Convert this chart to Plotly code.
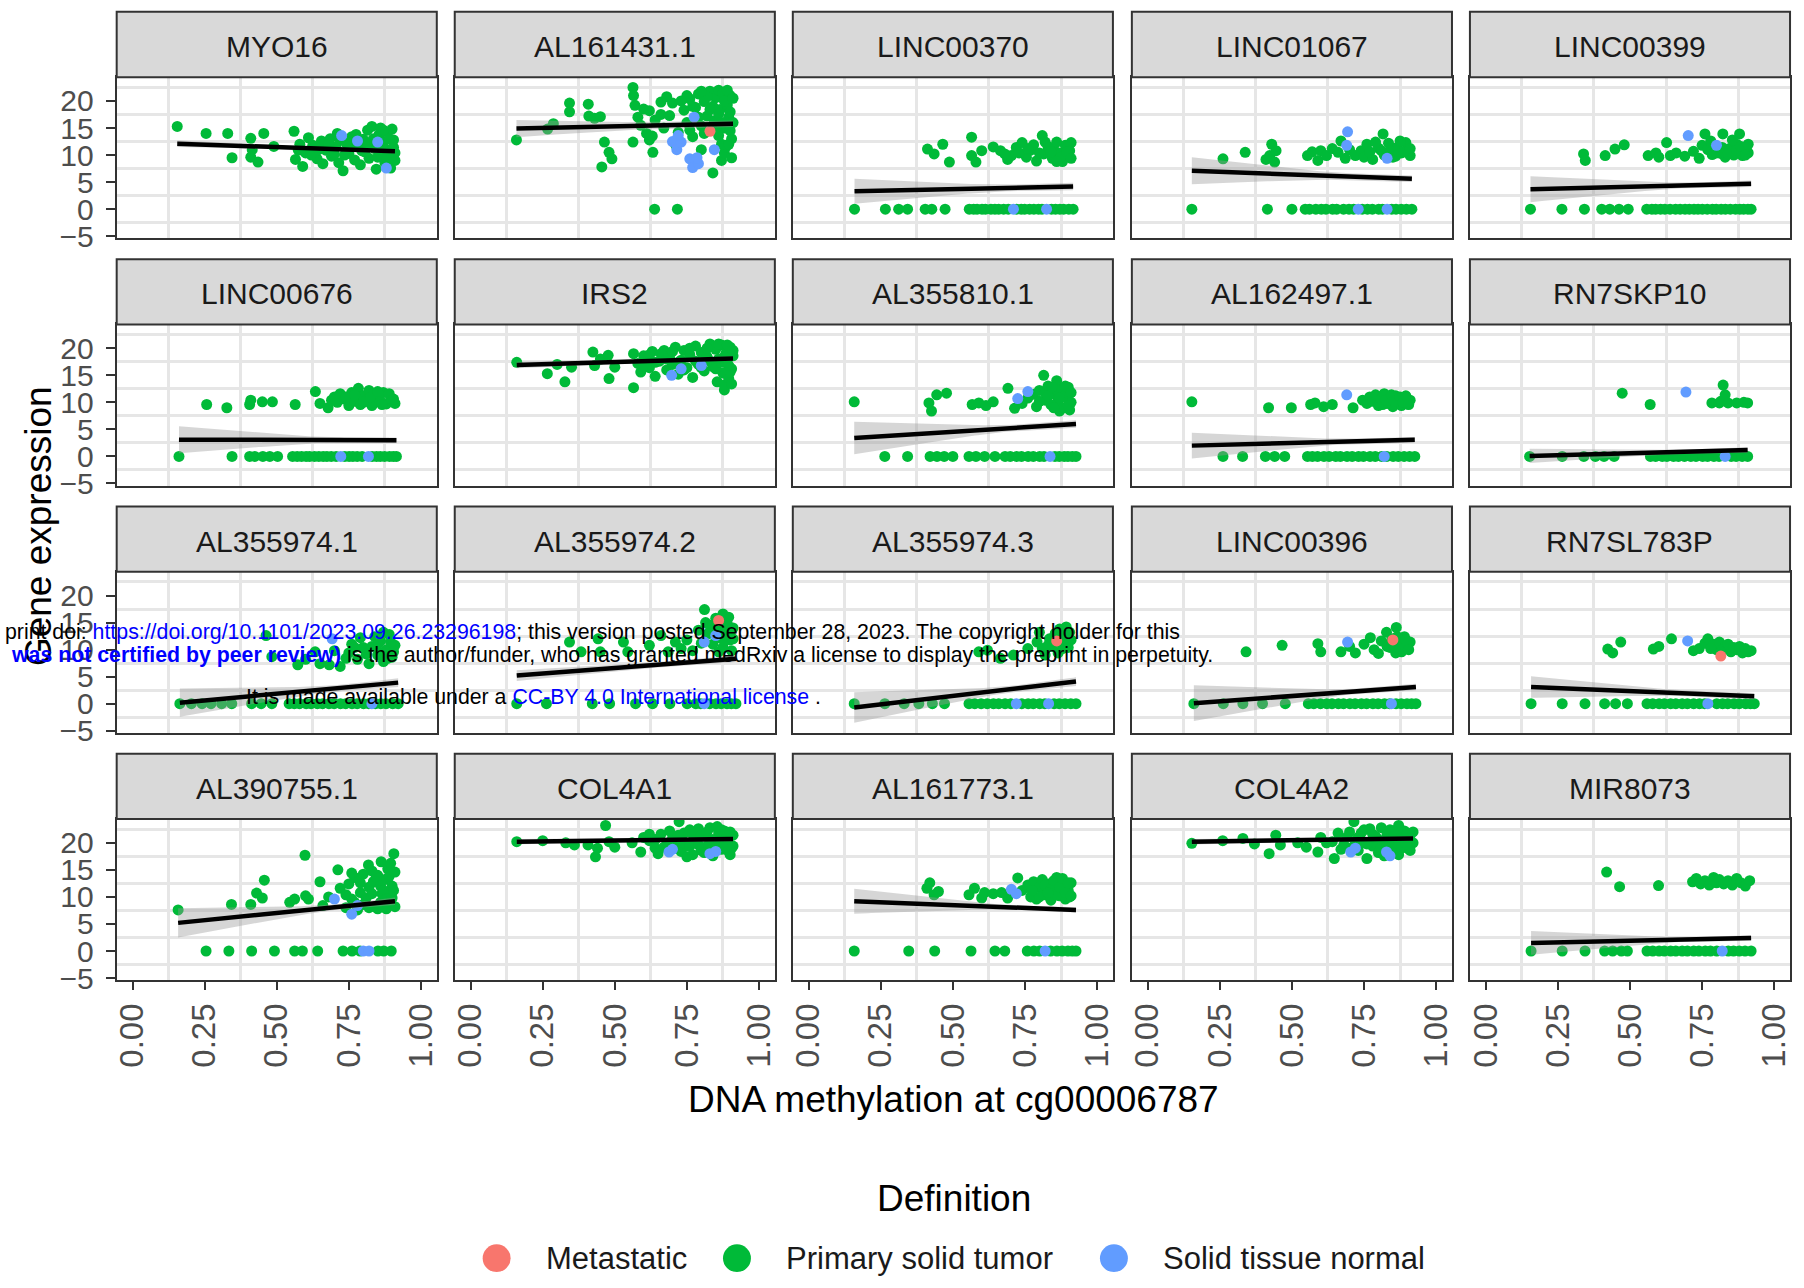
import numpy as np
import plotly.graph_objects as go

# ---------------------------------------------------------------------------
# Expression vs. methylation at cg00006787, one panel per gene.
# Each sample is (methylation beta value, expression).
# ---------------------------------------------------------------------------

GENES = ["MYO16", "AL161431.1", "LINC00370", "LINC01067", "LINC00399",
         "LINC00676", "IRS2", "AL355810.1", "AL162497.1", "RN7SKP10",
         "AL355974.1", "AL355974.2", "AL355974.3", "LINC00396", "RN7SL783P",
         "AL390755.1", "COL4A1", "AL161773.1", "COL4A2", "MIR8073"]

MYO16_tumor = [(0.155, 15.3), (0.255, 14.0), (0.33, 14.0), (0.345, 9.5), (0.41, 13.1), (0.415, 11.0),
               (0.41, 9.6), (0.435, 8.7), (0.455, 14.0), (0.49, 11.6), (0.56, 14.4), (0.565, 9.2),
               (0.575, 10.9), (0.58, 12.0), (0.59, 7.9), (0.6, 10.4), (0.61, 13.2), (0.625, 11.8),
               (0.64, 9.3), (0.655, 12.6), (0.66, 8.4), (0.67, 10.9), (0.685, 13.0), (0.69, 9.8),
               (0.705, 11.5), (0.71, 14.0), (0.715, 8.6), (0.73, 7.1), (0.74, 12.2), (0.75, 10.3),
               (0.76, 13.4), (0.77, 9.1), (0.78, 11.7), (0.79, 8.2), (0.8, 12.9), (0.805, 10.6),
               (0.815, 14.6), (0.82, 9.4), (0.83, 15.3), (0.84, 11.2), (0.845, 7.4), (0.855, 13.8),
               (0.86, 15.0), (0.86, 10.0), (0.87, 12.4), (0.875, 8.6), (0.885, 14.2), (0.89, 11.0),
               (0.895, 7.6), (0.9, 9.2), (0.905, 12.8), (0.91, 10.4), (0.62, 10.0), (0.645, 11.0),
               (0.68, 12.0), (0.7, 10.2), (0.72, 12.8), (0.735, 10.0), (0.765, 11.6), (0.775, 13.8),
               (0.795, 10.8), (0.81, 12.0), (0.825, 11.8), (0.835, 13.0), (0.85, 9.6), (0.865, 11.4),
               (0.88, 10.0), (0.89, 13.0), (0.9, 14.8), (0.905, 11.4), (0.91, 9.0), (0.87, 14.6)]
MYO16_normal = [(0.725, 13.6), (0.85, 12.4), (0.88, 7.6), (0.78, 12.6)]
MYO16_metastatic = []

AL161431_1_tumor = [(0.159, 12.8), (0.267, 14.8), (0.287, 15.8), (0.343, 19.6), (0.343, 18.0), (0.408, 19.4),
                    (0.41, 17.2), (0.43, 16.8), (0.45, 17.1), (0.464, 12.4), (0.48, 10.5), (0.49, 9.3),
                    (0.455, 7.8), (0.563, 22.5), (0.565, 21.0), (0.57, 19.2), (0.563, 12.4), (0.58, 17.0),
                    (0.59, 15.5), (0.6, 18.5), (0.61, 14.0), (0.62, 18.2), (0.62, 12.8), (0.632, 10.5),
                    (0.64, 16.5), (0.66, 19.8), (0.67, 15.0), (0.68, 20.8), (0.69, 17.3), (0.7, 19.6),
                    (0.71, 12.0), (0.72, 14.2), (0.74, 18.3), (0.75, 16.0), (0.76, 20.4), (0.77, 13.4),
                    (0.78, 18.8), (0.79, 21.3), (0.8, 15.4), (0.8, 11.0), (0.81, 19.9), (0.82, 17.2),
                    (0.83, 21.8), (0.84, 6.7), (0.845, 16.3), (0.85, 20.6), (0.86, 13.6), (0.86, 22.0),
                    (0.865, 18.4), (0.87, 9.0), (0.875, 21.5), (0.88, 15.0), (0.88, 10.4), (0.885, 11.5),
                    (0.89, 19.3), (0.895, 17.0), (0.9, 21.0), (0.9, 18.0), (0.905, 13.0), (0.91, 16.0),
                    (0.75, 21.0), (0.77, 19.0), (0.79, 17.0), (0.81, 14.0), (0.82, 20.8), (0.84, 19.0),
                    (0.85, 15.0), (0.86, 17.6), (0.87, 12.0), (0.88, 20.0), (0.89, 22.0), (0.9, 14.5),
                    (0.91, 20.5), (0.905, 9.5), (0.895, 12.0), (0.87, 16.0), (0.83, 18.4), (0.8, 21.8),
                    (0.76, 14.6), (0.73, 20.0), (0.66, 17.5), (0.63, 13.5),
                    (0.638, 0.0), (0.717, 0.0)]
AL161431_1_normal = [(0.7, 12.5), (0.715, 11.0), (0.73, 12.4), (0.72, 13.6), (0.775, 17.0), (0.76, 9.3),
                     (0.77, 7.7), (0.79, 8.4), (0.785, 9.5), (0.845, 11.0)]
AL161431_1_metastatic = [(0.83, 14.4)]

LINC00370_tumor = [(0.412, 11.1), (0.435, 10.2), (0.465, 12.0), (0.488, 8.7), (0.565, 13.3), (0.565, 9.9),
                   (0.58, 8.7), (0.6, 10.8), (0.64, 11.5), (0.665, 10.8), (0.69, 9.2), (0.703, 9.9),
                   (0.72, 11.4), (0.74, 12.3), (0.755, 9.6), (0.77, 10.9), (0.78, 11.9), (0.79, 8.9),
                   (0.81, 13.6), (0.815, 10.2), (0.83, 11.6), (0.845, 9.4), (0.85, 11.0), (0.86, 12.4),
                   (0.87, 10.4), (0.88, 8.8), (0.89, 11.8), (0.9, 9.9), (0.905, 10.8), (0.91, 12.3),
                   (0.73, 10.4), (0.76, 11.2), (0.8, 10.4), (0.82, 12.4), (0.84, 10.6), (0.875, 9.6),
                   (0.895, 10.6), (0.91, 9.4), (0.68, 10.2), (0.86, 8.8),
                   (0.159, 0.0), (0.266, 0.0), (0.312, 0.0), (0.343, 0.0), (0.404, 0.0), (0.427, 0.0),
                   (0.473, 0.0), (0.557, 0.0), (0.572, 0.0), (0.584, 0.0), (0.601, 0.0), (0.613, 0.0),
                   (0.632, 0.0), (0.646, 0.0), (0.659, 0.0), (0.676, 0.0), (0.692, 0.0), (0.721, 0.0),
                   (0.737, 0.0), (0.749, 0.0), (0.766, 0.0), (0.781, 0.0), (0.797, 0.0), (0.809, 0.0),
                   (0.842, 0.0), (0.856, 0.0), (0.871, 0.0), (0.884, 0.0), (0.902, 0.0), (0.917, 0.0)]
LINC00370_normal = [(0.71, 0.0), (0.825, 0.0)]
LINC00370_metastatic = []

LINC01067_tumor = [(0.261, 9.3), (0.338, 10.5), (0.41, 9.2), (0.423, 9.9), (0.43, 12.0), (0.44, 8.7),
                   (0.445, 10.8), (0.554, 9.9), (0.57, 10.6), (0.59, 9.0), (0.6, 10.8), (0.62, 9.9),
                   (0.64, 11.2), (0.66, 10.5), (0.67, 12.6), (0.685, 9.4), (0.7, 11.0), (0.72, 9.9),
                   (0.74, 10.8), (0.75, 9.6), (0.76, 12.0), (0.78, 9.2), (0.8, 11.3), (0.816, 13.9),
                   (0.82, 10.0), (0.835, 12.2), (0.85, 9.6), (0.865, 11.4), (0.88, 10.4), (0.895, 12.3),
                   (0.9, 11.0), (0.91, 9.9), (0.77, 10.6), (0.79, 12.4), (0.81, 10.8), (0.84, 10.8),
                   (0.86, 9.8), (0.875, 12.6), (0.89, 10.6), (0.91, 11.2),
                   (0.153, 0.0), (0.415, 0.0), (0.5, 0.0), (0.546, 0.0), (0.561, 0.0), (0.583, 0.0),
                   (0.602, 0.0), (0.618, 0.0), (0.641, 0.0), (0.655, 0.0), (0.679, 0.0), (0.698, 0.0),
                   (0.714, 0.0), (0.744, 0.0), (0.762, 0.0), (0.779, 0.0), (0.801, 0.0), (0.814, 0.0),
                   (0.846, 0.0), (0.861, 0.0), (0.879, 0.0), (0.897, 0.0), (0.916, 0.0)]
LINC01067_normal = [(0.693, 14.3), (0.69, 11.8), (0.83, 9.4), (0.73, 0.0), (0.83, 0.0)]
LINC01067_metastatic = []

LINC00399_tumor = [(0.339, 10.2), (0.345, 9.0), (0.414, 9.9), (0.448, 11.1), (0.48, 11.9), (0.563, 9.9),
                   (0.59, 10.4), (0.6, 9.6), (0.627, 12.3), (0.64, 9.9), (0.66, 10.4), (0.69, 9.8),
                   (0.72, 10.7), (0.74, 9.4), (0.75, 11.8), (0.76, 13.9), (0.77, 11.0), (0.785, 10.1),
                   (0.8, 11.6), (0.815, 10.3), (0.822, 13.9), (0.83, 9.6), (0.845, 11.2), (0.86, 10.0),
                   (0.87, 12.0), (0.88, 13.9), (0.89, 9.9), (0.9, 11.2), (0.91, 10.4),
                   (0.78, 12.6), (0.8, 10.4), (0.82, 11.4), (0.84, 10.2), (0.855, 12.8), (0.87, 10.8),
                   (0.885, 11.6), (0.9, 10.0), (0.91, 12.0),
                   (0.155, 0.0), (0.264, 0.0), (0.342, 0.0), (0.402, 0.0), (0.43, 0.0), (0.462, 0.0),
                   (0.494, 0.0), (0.558, 0.0), (0.576, 0.0), (0.589, 0.0), (0.606, 0.0), (0.621, 0.0),
                   (0.639, 0.0), (0.658, 0.0), (0.674, 0.0), (0.691, 0.0), (0.706, 0.0), (0.722, 0.0),
                   (0.736, 0.0), (0.751, 0.0), (0.768, 0.0), (0.786, 0.0), (0.799, 0.0), (0.816, 0.0),
                   (0.831, 0.0), (0.848, 0.0), (0.866, 0.0), (0.881, 0.0), (0.894, 0.0), (0.909, 0.0),
                   (0.92, 0.0)]
LINC00399_normal = [(0.702, 13.6), (0.8, 11.8)]
LINC00399_metastatic = []

LINC00676_tumor = [(0.257, 9.6), (0.327, 9.0), (0.406, 9.6), (0.41, 10.4), (0.45, 10.1), (0.485, 10.1),
                   (0.564, 9.6), (0.634, 12.0), (0.65, 9.8), (0.678, 9.0), (0.69, 10.4), (0.7, 11.0),
                   (0.71, 10.0), (0.72, 11.6), (0.735, 10.6), (0.75, 9.4), (0.76, 11.8), (0.77, 10.2),
                   (0.783, 12.6), (0.79, 9.6), (0.8, 11.2), (0.81, 10.4), (0.82, 12.2), (0.83, 9.4),
                   (0.845, 11.0), (0.86, 10.2), (0.87, 11.8), (0.88, 9.7), (0.895, 10.6), (0.91, 9.8),
                   (0.74, 11.0), (0.77, 11.4), (0.8, 10.0), (0.825, 11.0), (0.85, 12.0), (0.865, 9.6),
                   (0.89, 11.6), (0.905, 10.6),
                   (0.161, 0.0), (0.345, 0.0), (0.406, 0.0), (0.424, 0.0), (0.452, 0.0), (0.476, 0.0),
                   (0.503, 0.0), (0.555, 0.0), (0.571, 0.0), (0.586, 0.0), (0.602, 0.0), (0.614, 0.0),
                   (0.631, 0.0), (0.646, 0.0), (0.661, 0.0), (0.674, 0.0), (0.689, 0.0), (0.706, 0.0),
                   (0.736, 0.0), (0.751, 0.0), (0.764, 0.0), (0.779, 0.0), (0.796, 0.0), (0.831, 0.0),
                   (0.846, 0.0), (0.859, 0.0), (0.874, 0.0), (0.891, 0.0), (0.904, 0.0), (0.915, 0.0)]
LINC00676_normal = [(0.722, 0.0), (0.818, 0.0)]
LINC00676_metastatic = []

IRS2_tumor = [(0.16, 17.4), (0.266, 15.3), (0.3, 17.0), (0.327, 13.8), (0.35, 16.5), (0.424, 19.3),
              (0.43, 16.8), (0.45, 18.0), (0.477, 18.7), (0.48, 14.4), (0.5, 16.5), (0.565, 19.0),
              (0.565, 12.7), (0.58, 17.2), (0.59, 15.6), (0.6, 18.6), (0.62, 16.4), (0.63, 19.4),
              (0.64, 14.8), (0.655, 17.6), (0.671, 19.6), (0.68, 16.0), (0.69, 18.2), (0.7, 17.0),
              (0.71, 20.2), (0.72, 15.2), (0.73, 17.8), (0.74, 19.6), (0.75, 16.4), (0.76, 18.8),
              (0.77, 14.6), (0.78, 20.4), (0.79, 17.0), (0.8, 19.2), (0.81, 15.8), (0.82, 18.4),
              (0.83, 20.8), (0.84, 16.6), (0.85, 19.8), (0.855, 13.8), (0.86, 18.0), (0.87, 20.6),
              (0.875, 15.4), (0.88, 12.3), (0.88, 13.2), (0.885, 19.0), (0.89, 17.2), (0.895, 14.4),
              (0.9, 20.2), (0.905, 16.2), (0.91, 18.6),
              (0.6, 16.8), (0.62, 18.8), (0.64, 17.4), (0.66, 19.0), (0.68, 18.0), (0.7, 19.4),
              (0.72, 17.4), (0.74, 16.0), (0.76, 20.0), (0.78, 17.6), (0.8, 16.4), (0.82, 20.0),
              (0.83, 17.6), (0.85, 16.2), (0.86, 20.8), (0.87, 17.4), (0.88, 18.4), (0.89, 20.6),
              (0.9, 15.6), (0.91, 19.6), (0.895, 16.8), (0.905, 13.4)]
IRS2_normal = [(0.697, 15.0), (0.73, 16.2), (0.8, 16.8)]
IRS2_metastatic = []

AL355810_1_tumor = [(0.158, 10.1), (0.417, 9.9), (0.426, 8.4), (0.444, 11.4), (0.478, 11.7), (0.567, 9.6),
                    (0.59, 9.9), (0.615, 9.4), (0.64, 10.1), (0.691, 12.6), (0.714, 8.9), (0.74, 9.8),
                    (0.76, 10.8), (0.78, 11.5), (0.79, 9.2), (0.8, 12.2), (0.815, 15.0), (0.82, 10.4),
                    (0.82, 11.8), (0.83, 13.0), (0.84, 9.6), (0.85, 11.6), (0.86, 14.0), (0.865, 10.2),
                    (0.87, 8.4), (0.875, 12.4), (0.885, 9.0), (0.893, 11.0), (0.9, 12.8), (0.905, 8.6),
                    (0.91, 10.0), (0.8, 10.2), (0.83, 11.2), (0.85, 9.0), (0.86, 12.4), (0.88, 11.0),
                    (0.89, 13.0), (0.9, 9.4), (0.91, 11.8), (0.87, 10.8), (0.845, 12.8),
                    (0.264, 0.0), (0.343, 0.0), (0.421, 0.0), (0.445, 0.0), (0.47, 0.0), (0.5, 0.0),
                    (0.556, 0.0), (0.58, 0.0), (0.61, 0.0), (0.646, 0.0), (0.681, 0.0), (0.699, 0.0),
                    (0.721, 0.0), (0.738, 0.0), (0.761, 0.0), (0.779, 0.0), (0.801, 0.0), (0.816, 0.0),
                    (0.854, 0.0), (0.869, 0.0), (0.886, 0.0), (0.899, 0.0), (0.914, 0.0), (0.927, 0.0)]
AL355810_1_normal = [(0.725, 10.7), (0.76, 12.0), (0.837, 0.0)]
AL355810_1_metastatic = []

AL162497_1_tumor = [(0.153, 10.1), (0.419, 9.0), (0.498, 9.0), (0.565, 9.6), (0.58, 9.9), (0.61, 9.2),
                    (0.64, 9.6), (0.712, 9.0), (0.745, 10.4), (0.76, 9.8), (0.77, 11.0), (0.78, 10.2),
                    (0.79, 11.4), (0.8, 9.4), (0.81, 10.6), (0.82, 11.6), (0.83, 9.8), (0.84, 10.8),
                    (0.85, 9.2), (0.86, 11.2), (0.87, 10.0), (0.88, 9.4), (0.89, 10.6), (0.9, 9.7),
                    (0.91, 10.4), (0.815, 9.6), (0.825, 10.4), (0.845, 11.4), (0.855, 10.2),
                    (0.875, 11.0), (0.885, 10.0), (0.895, 11.2), (0.905, 9.6),
                    (0.261, 0.0), (0.329, 0.0), (0.408, 0.0), (0.44, 0.0), (0.475, 0.0), (0.554, 0.0),
                    (0.571, 0.0), (0.589, 0.0), (0.611, 0.0), (0.629, 0.0), (0.652, 0.0), (0.668, 0.0),
                    (0.691, 0.0), (0.709, 0.0), (0.731, 0.0), (0.748, 0.0), (0.771, 0.0), (0.789, 0.0),
                    (0.811, 0.0), (0.829, 0.0), (0.851, 0.0), (0.869, 0.0), (0.889, 0.0), (0.908, 0.0),
                    (0.926, 0.0)]
AL162497_1_normal = [(0.69, 11.4), (0.82, 0.0)]
AL162497_1_metastatic = []

RN7SKP10_tumor = [(0.473, 11.7), (0.57, 9.6), (0.784, 9.9), (0.81, 9.9), (0.815, 10.2), (0.823, 13.2),
                  (0.83, 11.4), (0.84, 9.9), (0.87, 9.9), (0.895, 10.0), (0.908, 9.9),
                  (0.152, 0.0), (0.265, 0.0), (0.34, 0.0), (0.38, 0.0), (0.41, 0.0), (0.445, 0.0),
                  (0.571, 0.0), (0.589, 0.0), (0.612, 0.0), (0.628, 0.0), (0.651, 0.0), (0.668, 0.0),
                  (0.689, 0.0), (0.711, 0.0), (0.729, 0.0), (0.752, 0.0), (0.769, 0.0), (0.791, 0.0),
                  (0.809, 0.0), (0.851, 0.0), (0.868, 0.0), (0.889, 0.0), (0.908, 0.0)]
RN7SKP10_normal = [(0.694, 11.9), (0.83, 0.0)]
RN7SKP10_metastatic = []

AL355974_1_tumor = [(0.463, 12.6), (0.483, 8.7), (0.573, 7.2), (0.6, 8.2), (0.633, 9.6), (0.65, 7.4),
                    (0.682, 7.2), (0.7, 9.8), (0.72, 6.9), (0.74, 8.4), (0.76, 11.0), (0.78, 8.2),
                    (0.79, 12.2), (0.8, 10.4), (0.82, 7.4), (0.84, 12.4), (0.85, 9.0), (0.86, 11.6),
                    (0.87, 7.8), (0.87, 13.2), (0.88, 10.0), (0.89, 12.8), (0.9, 8.6), (0.91, 10.8),
                    (0.75, 9.4), (0.77, 10.4), (0.81, 9.2), (0.83, 10.6), (0.85, 11.0), (0.865, 9.4),
                    (0.885, 8.4), (0.895, 11.4), (0.905, 9.6),
                    (0.164, 0.0), (0.204, 0.0), (0.241, 0.0), (0.272, 0.0), (0.309, 0.0), (0.344, 0.0),
                    (0.413, 0.0), (0.446, 0.0), (0.483, 0.0), (0.543, 0.0), (0.561, 0.0), (0.579, 0.0),
                    (0.602, 0.0), (0.619, 0.0), (0.641, 0.0), (0.659, 0.0), (0.681, 0.0), (0.699, 0.0),
                    (0.721, 0.0), (0.739, 0.0), (0.761, 0.0), (0.779, 0.0), (0.801, 0.0), (0.819, 0.0),
                    (0.842, 0.0), (0.861, 0.0), (0.879, 0.0), (0.902, 0.0), (0.921, 0.0)]
AL355974_1_normal = [(0.692, 12.0), (0.83, 0.0)]
AL355974_1_metastatic = []

AL355974_2_tumor = [(0.343, 11.4), (0.383, 9.6), (0.442, 12.0), (0.45, 9.6), (0.53, 11.4), (0.545, 9.6),
                    (0.62, 10.8), (0.66, 12.6), (0.685, 9.6), (0.71, 11.4), (0.73, 10.2), (0.75, 11.8),
                    (0.77, 9.8), (0.79, 13.6), (0.8, 11.2), (0.811, 17.4), (0.815, 15.0), (0.83, 13.4),
                    (0.84, 11.0), (0.85, 15.8), (0.86, 12.2), (0.86, 9.6), (0.87, 14.4), (0.875, 10.4),
                    (0.885, 13.0), (0.895, 16.0), (0.9, 11.8), (0.905, 9.8), (0.91, 14.0),
                    (0.82, 12.8), (0.84, 14.6), (0.855, 13.0), (0.865, 15.6), (0.88, 11.6), (0.89, 14.8),
                    (0.9, 13.2), (0.91, 12.0), (0.875, 16.6),
                    (0.16, 0.0), (0.263, 0.0), (0.422, 0.0), (0.482, 0.0), (0.572, 0.0), (0.631, 0.0),
                    (0.691, 0.0), (0.751, 0.0), (0.781, 0.0), (0.798, 0.0), (0.829, 0.0), (0.851, 0.0),
                    (0.869, 0.0), (0.889, 0.0), (0.904, 0.0), (0.92, 0.0)]
AL355974_2_normal = [(0.81, 11.4), (0.85, 12.6), (0.81, 0.0)]
AL355974_2_metastatic = [(0.86, 15.4)]

AL355974_3_tumor = [(0.59, 9.6), (0.62, 9.9), (0.665, 8.4), (0.71, 9.0), (0.76, 10.2), (0.792, 11.4),
                    (0.8, 13.2), (0.81, 10.2), (0.82, 9.0), (0.835, 12.0), (0.845, 10.6), (0.855, 13.0),
                    (0.865, 9.4), (0.87, 13.8), (0.875, 11.4), (0.885, 12.6), (0.893, 14.2), (0.9, 10.4),
                    (0.91, 11.8), (0.83, 10.8), (0.85, 11.6), (0.86, 12.4), (0.88, 10.2), (0.89, 11.0),
                    (0.905, 13.2), (0.895, 12.0),
                    (0.158, 0.0), (0.264, 0.0), (0.331, 0.0), (0.382, 0.0), (0.429, 0.0), (0.471, 0.0),
                    (0.556, 0.0), (0.576, 0.0), (0.598, 0.0), (0.619, 0.0), (0.641, 0.0), (0.659, 0.0),
                    (0.681, 0.0), (0.701, 0.0), (0.739, 0.0), (0.761, 0.0), (0.779, 0.0), (0.801, 0.0),
                    (0.819, 0.0), (0.851, 0.0), (0.869, 0.0), (0.889, 0.0), (0.909, 0.0), (0.927, 0.0)]
AL355974_3_normal = [(0.72, 0.0), (0.832, 0.0)]
AL355974_3_metastatic = [(0.86, 11.6)]

LINC00396_tumor = [(0.341, 9.6), (0.466, 10.8), (0.59, 11.1), (0.6, 9.6), (0.67, 9.6), (0.7, 10.6),
                   (0.72, 9.4), (0.75, 11.0), (0.772, 12.2), (0.785, 10.0), (0.8, 9.3), (0.81, 11.6),
                   (0.828, 13.2), (0.84, 10.4), (0.85, 12.0), (0.86, 9.4), (0.862, 14.1), (0.87, 11.0),
                   (0.88, 9.6), (0.89, 12.4), (0.9, 10.6), (0.91, 11.4), (0.83, 10.6), (0.845, 11.6),
                   (0.855, 10.4), (0.865, 12.4), (0.875, 10.2), (0.885, 11.0), (0.895, 11.8), (0.905, 10.0),
                   (0.16, 0.0), (0.262, 0.0), (0.33, 0.0), (0.398, 0.0), (0.477, 0.0), (0.557, 0.0),
                   (0.576, 0.0), (0.599, 0.0), (0.621, 0.0), (0.639, 0.0), (0.661, 0.0), (0.679, 0.0),
                   (0.701, 0.0), (0.719, 0.0), (0.741, 0.0), (0.759, 0.0), (0.781, 0.0), (0.799, 0.0),
                   (0.821, 0.0), (0.839, 0.0), (0.861, 0.0), (0.879, 0.0), (0.899, 0.0), (0.915, 0.0),
                   (0.93, 0.0)]
LINC00396_normal = [(0.693, 11.4), (0.845, 0.0)]
LINC00396_metastatic = [(0.85, 11.8)]

RN7SL783P_tumor = [(0.423, 10.1), (0.44, 9.4), (0.468, 11.4), (0.581, 10.1), (0.6, 10.6), (0.644, 12.0),
                   (0.72, 9.8), (0.74, 10.2), (0.76, 11.2), (0.77, 12.0), (0.79, 11.0), (0.8, 10.0),
                   (0.81, 11.4), (0.83, 10.6), (0.85, 9.6), (0.87, 10.0), (0.89, 9.4), (0.92, 9.8),
                   (0.78, 10.2), (0.82, 10.0), (0.84, 11.0), (0.86, 10.4), (0.88, 10.6), (0.9, 10.2),
                   (0.91, 9.6),
                   (0.157, 0.0), (0.265, 0.0), (0.344, 0.0), (0.412, 0.0), (0.45, 0.0), (0.491, 0.0),
                   (0.559, 0.0), (0.579, 0.0), (0.601, 0.0), (0.619, 0.0), (0.641, 0.0), (0.659, 0.0),
                   (0.681, 0.0), (0.699, 0.0), (0.721, 0.0), (0.741, 0.0), (0.759, 0.0), (0.801, 0.0),
                   (0.821, 0.0), (0.839, 0.0), (0.861, 0.0), (0.879, 0.0), (0.901, 0.0), (0.918, 0.0),
                   (0.931, 0.0)]
RN7SL783P_normal = [(0.7, 11.6), (0.77, 0.0)]
RN7SL783P_metastatic = [(0.815, 8.8)]

AL390755_1_tumor = [(0.158, 7.6), (0.343, 8.6), (0.41, 8.6), (0.43, 10.7), (0.45, 9.8), (0.457, 13.1),
                    (0.545, 9.0), (0.562, 9.6), (0.598, 17.7), (0.6, 10.2), (0.61, 9.6), (0.65, 12.8),
                    (0.66, 8.4), (0.68, 10.0), (0.712, 15.0), (0.72, 11.6), (0.74, 8.0), (0.75, 12.4),
                    (0.76, 9.6), (0.77, 13.6), (0.78, 7.6), (0.79, 10.8), (0.8, 8.6), (0.818, 15.9),
                    (0.82, 11.8), (0.835, 12.8), (0.84, 8.2), (0.85, 14.0), (0.86, 9.0), (0.862, 16.5),
                    (0.865, 10.6), (0.875, 13.2), (0.88, 7.8), (0.885, 15.2), (0.89, 9.4), (0.895, 10.8),
                    (0.9, 12.0), (0.906, 18.0), (0.91, 8.2),
                    (0.74, 10.4), (0.76, 14.4), (0.77, 9.0), (0.79, 12.6), (0.8, 14.2), (0.81, 9.8),
                    (0.83, 10.6), (0.845, 13.6), (0.86, 12.0), (0.87, 11.2), (0.88, 9.6), (0.89, 13.8),
                    (0.9, 9.8), (0.91, 14.6), (0.905, 11.2), (0.85, 7.8), (0.82, 8.0), (0.895, 16.2),
                    (0.83, 14.8),
                    (0.255, 0.0), (0.334, 0.0), (0.413, 0.0), (0.492, 0.0), (0.562, 0.0), (0.589, 0.0),
                    (0.642, 0.0), (0.73, 0.0), (0.761, 0.0), (0.789, 0.0), (0.851, 0.0), (0.871, 0.0),
                    (0.897, 0.0)]
AL390755_1_normal = [(0.7, 9.6), (0.78, 8.4), (0.76, 6.8), (0.8, 0.0), (0.82, 0.0)]
AL390755_1_metastatic = []

COL4A1_tumor = [(0.16, 20.2), (0.25, 20.4), (0.33, 20.0), (0.36, 19.6), (0.407, 19.6), (0.433, 17.4),
                (0.44, 19.0), (0.468, 23.2), (0.48, 20.2), (0.5, 19.2), (0.56, 20.0), (0.59, 18.3),
                (0.6, 21.0), (0.62, 20.4), (0.64, 19.0), (0.65, 18.0), (0.66, 21.6), (0.68, 19.6),
                (0.7, 20.8), (0.723, 23.9), (0.73, 18.4), (0.74, 21.8), (0.75, 19.4), (0.75, 17.4),
                (0.76, 22.4), (0.77, 17.8), (0.78, 20.6), (0.79, 22.6), (0.8, 18.6), (0.81, 21.2),
                (0.82, 19.4), (0.83, 22.8), (0.84, 17.6), (0.85, 20.4), (0.855, 23.0), (0.86, 21.8),
                (0.87, 18.8), (0.88, 22.2), (0.89, 19.8), (0.9, 17.8), (0.905, 19.0), (0.91, 21.4),
                (0.62, 21.6), (0.64, 20.6), (0.67, 19.2), (0.69, 22.2), (0.71, 19.6), (0.72, 21.4),
                (0.74, 20.0), (0.76, 19.4), (0.77, 21.6), (0.79, 19.6), (0.8, 21.4), (0.82, 22.0),
                (0.84, 20.6), (0.85, 19.0), (0.86, 20.2), (0.87, 22.4), (0.88, 19.6), (0.89, 21.2),
                (0.9, 22.0), (0.91, 19.4), (0.895, 18.4), (0.81, 18.2)]
COL4A1_normal = [(0.688, 18.3), (0.7, 18.8), (0.83, 18.0), (0.85, 18.4)]
COL4A1_metastatic = []

AL161773_1_tumor = [(0.41, 11.6), (0.42, 12.6), (0.435, 10.4), (0.45, 11.0), (0.556, 10.4), (0.575, 11.6),
                    (0.6, 9.8), (0.61, 10.8), (0.64, 10.6), (0.669, 10.8), (0.69, 9.8), (0.725, 13.5),
                    (0.74, 11.2), (0.76, 12.2), (0.77, 10.0), (0.78, 12.8), (0.79, 9.6), (0.8, 11.8),
                    (0.81, 13.2), (0.82, 10.4), (0.83, 12.4), (0.84, 9.4), (0.85, 11.4), (0.86, 13.6),
                    (0.87, 10.2), (0.88, 12.0), (0.89, 9.6), (0.9, 11.2), (0.905, 10.0), (0.91, 12.6),
                    (0.8, 10.0), (0.82, 12.2), (0.84, 11.4), (0.85, 13.0), (0.86, 10.4), (0.87, 11.8),
                    (0.88, 13.4), (0.89, 10.8), (0.9, 12.6), (0.91, 10.2), (0.83, 10.8), (0.775, 11.2),
                    (0.158, 0.0), (0.347, 0.0), (0.437, 0.0), (0.563, 0.0), (0.646, 0.0), (0.68, 0.0),
                    (0.758, 0.0), (0.781, 0.0), (0.801, 0.0), (0.839, 0.0), (0.861, 0.0), (0.879, 0.0),
                    (0.899, 0.0), (0.914, 0.0), (0.927, 0.0)]
AL161773_1_normal = [(0.703, 11.4), (0.72, 10.6), (0.82, 0.0)]
AL161773_1_metastatic = []

COL4A2_tumor = [(0.153, 19.9), (0.26, 20.4), (0.33, 20.8), (0.37, 19.8), (0.421, 18.0), (0.444, 21.4),
                (0.46, 19.6), (0.52, 20.0), (0.55, 19.2), (0.59, 18.3), (0.6, 21.0), (0.62, 20.0),
                (0.647, 17.1), (0.66, 21.8), (0.68, 19.6), (0.7, 22.0), (0.715, 23.9), (0.72, 20.4),
                (0.73, 18.6), (0.74, 21.8), (0.75, 20.0), (0.76, 17.1), (0.77, 22.6), (0.78, 19.4),
                (0.79, 21.2), (0.8, 18.2), (0.81, 22.8), (0.82, 20.2), (0.83, 18.8), (0.84, 22.4),
                (0.85, 19.6), (0.86, 21.6), (0.87, 17.8), (0.87, 23.2), (0.88, 20.8), (0.89, 22.2),
                (0.9, 19.0), (0.91, 21.4), (0.92, 20.0),
                (0.64, 20.2), (0.67, 18.8), (0.69, 21.0), (0.71, 19.2), (0.73, 21.0), (0.75, 22.4),
                (0.76, 19.8), (0.78, 21.6), (0.8, 20.6), (0.81, 19.2), (0.83, 21.6), (0.85, 22.2),
                (0.86, 18.8), (0.87, 20.6), (0.88, 19.0), (0.89, 20.2), (0.9, 21.8), (0.91, 18.6),
                (0.92, 22.0), (0.895, 19.8), (0.82, 17.6)]
COL4A2_normal = [(0.704, 18.3), (0.72, 19.0), (0.828, 18.3), (0.84, 17.6)]
COL4A2_metastatic = []

MIR8073_tumor = [(0.419, 14.6), (0.464, 11.9), (0.599, 12.1), (0.717, 12.8), (0.73, 13.4), (0.745, 12.4),
                 (0.76, 13.0), (0.775, 12.2), (0.79, 13.6), (0.8, 12.6), (0.81, 13.2), (0.825, 12.4),
                 (0.84, 13.0), (0.855, 12.2), (0.87, 13.4), (0.885, 12.6), (0.9, 12.0), (0.915, 13.0),
                 (0.157, 0.0), (0.265, 0.0), (0.344, 0.0), (0.412, 0.0), (0.44, 0.0), (0.47, 0.0),
                 (0.491, 0.0), (0.559, 0.0), (0.579, 0.0), (0.601, 0.0), (0.619, 0.0), (0.641, 0.0),
                 (0.659, 0.0), (0.681, 0.0), (0.699, 0.0), (0.721, 0.0), (0.739, 0.0), (0.761, 0.0),
                 (0.779, 0.0), (0.801, 0.0), (0.841, 0.0), (0.859, 0.0), (0.879, 0.0), (0.899, 0.0),
                 (0.92, 0.0)]
MIR8073_normal = [(0.82, 0.0)]
MIR8073_metastatic = []

# Linear fit (geom_smooth, method = "lm") per gene: fitted value at the lowest and
# highest methylation, and half-width of the 95% band at the ends and where it is narrowest.
FIT_START = [12.1, 14.9, 3.3, 7.1, 3.7, 3.1, 16.9, 3.4, 2.0, 0.1,
             0.2, 5.2, -0.7, 0.1, 3.1, 5.2, 20.2, 9.2, 20.2, 1.5]
FIT_END = [10.7, 15.8, 4.2, 5.6, 4.7, 3.0, 18.1, 6.0, 3.1, 1.2,
           3.9, 8.3, 4.1, 3.1, 1.4, 9.2, 20.7, 7.6, 20.8, 2.4]
BAND_START = [0.6, 1.6, 2.3, 2.5, 2.4, 2.5, 0.6, 3.0, 2.4, 1.3,
              2.6, 1.0, 2.8, 3.3, 2.0, 2.7, 0.5, 2.3, 0.5, 2.2]
BAND_NARROW = [0.3, 0.6, 0.6, 0.6, 0.5, 0.5, 0.3, 0.6, 0.5, 0.4,
               0.6, 0.5, 0.6, 0.5, 0.5, 0.5, 0.3, 0.4, 0.3, 0.4]
BAND_END = [0.4, 0.6, 0.7, 0.6, 0.6, 0.5, 0.4, 0.7, 0.5, 0.5,
            0.8, 0.6, 0.8, 0.6, 0.6, 0.7, 0.4, 0.5, 0.4, 0.5]
BAND_NARROW_AT = 0.72

X_TICKS = [0.0, 0.25, 0.5, 0.75, 1.0]
X_TICK_TEXT = ["0.00", "0.25", "0.50", "0.75", "1.00"]
Y_TICKS = [-5, 0, 5, 10, 15, 20]

CATEGORIES = ["Metastatic", "Primary solid tumor", "Solid tissue normal"]
COLORS = {"Metastatic": "#F8766D", "Primary solid tumor": "#00BA38", "Solid tissue normal": "#619CFF"}

POINTS = {
    "MYO16": (MYO16_tumor, MYO16_normal, MYO16_metastatic),
    "AL161431.1": (AL161431_1_tumor, AL161431_1_normal, AL161431_1_metastatic),
    "LINC00370": (LINC00370_tumor, LINC00370_normal, LINC00370_metastatic),
    "LINC01067": (LINC01067_tumor, LINC01067_normal, LINC01067_metastatic),
    "LINC00399": (LINC00399_tumor, LINC00399_normal, LINC00399_metastatic),
    "LINC00676": (LINC00676_tumor, LINC00676_normal, LINC00676_metastatic),
    "IRS2": (IRS2_tumor, IRS2_normal, IRS2_metastatic),
    "AL355810.1": (AL355810_1_tumor, AL355810_1_normal, AL355810_1_metastatic),
    "AL162497.1": (AL162497_1_tumor, AL162497_1_normal, AL162497_1_metastatic),
    "RN7SKP10": (RN7SKP10_tumor, RN7SKP10_normal, RN7SKP10_metastatic),
    "AL355974.1": (AL355974_1_tumor, AL355974_1_normal, AL355974_1_metastatic),
    "AL355974.2": (AL355974_2_tumor, AL355974_2_normal, AL355974_2_metastatic),
    "AL355974.3": (AL355974_3_tumor, AL355974_3_normal, AL355974_3_metastatic),
    "LINC00396": (LINC00396_tumor, LINC00396_normal, LINC00396_metastatic),
    "RN7SL783P": (RN7SL783P_tumor, RN7SL783P_normal, RN7SL783P_metastatic),
    "AL390755.1": (AL390755_1_tumor, AL390755_1_normal, AL390755_1_metastatic),
    "COL4A1": (COL4A1_tumor, COL4A1_normal, COL4A1_metastatic),
    "AL161773.1": (AL161773_1_tumor, AL161773_1_normal, AL161773_1_metastatic),
    "COL4A2": (COL4A2_tumor, COL4A2_normal, COL4A2_metastatic),
    "MIR8073": (MIR8073_tumor, MIR8073_normal, MIR8073_metastatic),
}

# ---------------------------------------------------------------------------
# Page geometry (pixels)
# ---------------------------------------------------------------------------
W, H = 1804, 1288
COL_LEFT = [114, 453, 792, 1132, 1471]
PANEL_W = 321
STRIP_TOP = [12, 262, 512, 762]
STRIP_H = 66
PANEL_H = 163
NCOL = 5

FONT = "Liberation Sans, Arial, Helvetica, sans-serif"
BORDER = "#333333"
TICK_GREY = "#4D4D4D"
GRID = "#E6E6E6"


def px(xp):
    return xp / W


def py(yp):
    return 1 - yp / H


fig = go.Figure()
layout_axes = {}
shapes = []
annotations = []

for i, gene in enumerate(GENES):
    k = i + 1
    r, c = divmod(i, NCOL)
    left = COL_LEFT[c]
    top = STRIP_TOP[r] + STRIP_H
    xname = "x" if k == 1 else f"x{k}"
    yname = "y" if k == 1 else f"y{k}"
    xkey = "xaxis" if k == 1 else f"xaxis{k}"
    ykey = "yaxis" if k == 1 else f"yaxis{k}"
    bottom_row = r == 3
    first_col = c == 0

    layout_axes[xkey] = dict(
        domain=[px(left), px(left + PANEL_W)], anchor=yname,
        range=[-0.055, 1.055], tickmode="array", tickvals=X_TICKS, ticktext=X_TICK_TEXT,
        showgrid=False, zeroline=False, showline=True, mirror=True,
        linecolor=BORDER, linewidth=2,
        ticks="outside" if bottom_row else "", ticklen=8, tickwidth=2, tickcolor=BORDER,
        showticklabels=bottom_row, tickangle=-90,
        tickfont=dict(family=FONT, size=33, color=TICK_GREY),
        minor=dict(tickmode="array", tickvals=[0.125, 0.375, 0.625, 0.875],
                   showgrid=True, gridcolor=GRID, gridwidth=2.5, ticks=""),
    )
    layout_axes[ykey] = dict(
        domain=[py(top + PANEL_H), py(top)], anchor=xname,
        range=[-5.4, 24.4], tickmode="array", tickvals=Y_TICKS,
        showgrid=False, zeroline=False, showline=True, mirror=True,
        linecolor=BORDER, linewidth=2,
        ticks="outside" if first_col else "", ticklen=9, tickwidth=2, tickcolor=BORDER,
        showticklabels=first_col, ticklabelstandoff=6,
        tickfont=dict(family=FONT, size=30, color=TICK_GREY),
        minor=dict(tickmode="array", tickvals=[-2.5, 2.5, 7.5, 12.5, 17.5, 22.5],
                   showgrid=True, gridcolor=GRID, gridwidth=2.5, ticks=""),
    )

    tumor, normal, meta = POINTS[gene]
    for cat, pts in (("Primary solid tumor", tumor), ("Solid tissue normal", normal),
                     ("Metastatic", meta)):
        if not pts:
            continue
        fig.add_trace(go.Scatter(
            x=[p[0] for p in pts], y=[p[1] for p in pts], mode="markers",
            marker=dict(color=COLORS[cat], size=11, line=dict(width=0)),
            xaxis=xname, yaxis=yname, showlegend=False, name=cat,
        ))

    # fitted line and confidence band over the observed methylation range
    all_x = [p[0] for grp in (tumor, normal, meta) for p in grp]
    x0, x1 = min(all_x), max(all_x)
    y0, y1 = FIT_START[i], FIT_END[i]
    xs = np.linspace(x0, x1, 80)
    fit = y0 + (y1 - y0) * (xs - x0) / (x1 - x0)
    xm = BAND_NARROW_AT
    hm, hs, he = BAND_NARROW[i], BAND_START[i], BAND_END[i]
    left_part = np.sqrt(hm ** 2 + (hs ** 2 - hm ** 2) * ((xs - xm) / (x0 - xm)) ** 2)
    right_part = np.sqrt(hm ** 2 + (he ** 2 - hm ** 2) * ((xs - xm) / (x1 - xm)) ** 2)
    hw = np.where(xs < xm, left_part, right_part)
    fig.add_trace(go.Scatter(
        x=np.concatenate([xs, xs[::-1]]), y=np.concatenate([fit + hw, (fit - hw)[::-1]]),
        mode="lines", fill="toself", fillcolor="rgba(153,153,153,0.4)", line=dict(width=0),
        xaxis=xname, yaxis=yname, showlegend=False, hoverinfo="skip",
    ))
    fig.add_trace(go.Scatter(
        x=[x0, x1], y=[y0, y1], mode="lines", line=dict(color="black", width=4.5),
        xaxis=xname, yaxis=yname, showlegend=False,
    ))

    # facet strip
    s_top = STRIP_TOP[r]
    shapes.append(dict(type="rect", xref="paper", yref="paper",
                       x0=px(left), x1=px(left + PANEL_W), y0=py(s_top + STRIP_H), y1=py(s_top),
                       fillcolor="#D9D9D9", line=dict(color=BORDER, width=2)))
    annotations.append(dict(text=gene, xref="paper", yref="paper",
                            x=px(left + PANEL_W / 2), y=py(s_top + STRIP_H / 2 + 2),
                            xanchor="center", yanchor="middle", showarrow=False,
                            font=dict(family=FONT, size=30, color="#1A1A1A")))

# axis titles
annotations.append(dict(text="DNA methylation at cg00006787", xref="paper", yref="paper",
                        x=px(953), y=py(1112), xanchor="center", yanchor="middle", showarrow=False,
                        font=dict(family=FONT, size=37, color="black")))
annotations.append(dict(text="Gene expression", xref="paper", yref="paper",
                        x=px(35), y=py(532), xanchor="center", yanchor="middle", showarrow=False,
                        textangle=-90, font=dict(family=FONT, size=37, color="black")))

# legend
annotations.append(dict(text="Definition", xref="paper", yref="paper",
                        x=px(954), y=py(1212), xanchor="center", yanchor="middle", showarrow=False,
                        font=dict(family=FONT, size=37, color="black")))
LEGEND_DOT_X = [495, 736, 1114]
LEGEND_TEXT_X = [543, 783, 1161]
LEGEND_Y = 1272
for cat, dx, tx in zip(CATEGORIES, LEGEND_DOT_X, LEGEND_TEXT_X):
    shapes.append(dict(type="circle", xref="paper", yref="paper",
                       x0=px(dx - 14), x1=px(dx + 14), y0=py(LEGEND_Y + 14), y1=py(LEGEND_Y - 14),
                       fillcolor=COLORS[cat], line=dict(width=0)))
    annotations.append(dict(text=cat, xref="paper", yref="paper", x=px(tx), y=py(LEGEND_Y),
                            xanchor="left", yanchor="middle", showarrow=False,
                            font=dict(family=FONT, size=31, color="#1A1A1A")))

# preprint notice printed across the figure
BLUE = "#0000FF"
NOTICE_FONT = dict(family=FONT, size=21.3, color="black")
annotations.append(dict(
    text=("print doi: <span style='color:%s'>https://doi.org/10.1101/2023.09.26.23296198</span>; "
          "this version posted September 28, 2023. The copyright holder for this" % BLUE),
    xref="paper", yref="paper", x=px(0), y=py(639), xanchor="left", yanchor="middle",
    showarrow=False, font=NOTICE_FONT))
annotations.append(dict(
    text=("<b><span style='color:%s'>was not certified by peer review)</span></b> is the author/funder, "
          "who has granted medRxiv a license to display the preprint in perpetuity." % BLUE),
    xref="paper", yref="paper", x=px(6), y=py(662), xanchor="left", yanchor="middle",
    showarrow=False, font=NOTICE_FONT))
annotations.append(dict(
    text=("It is made available under a <span style='color:%s'>CC-BY 4.0 International license</span> ." % BLUE),
    xref="paper", yref="paper", x=px(242), y=py(705), xanchor="left", yanchor="middle",
    showarrow=False, font=NOTICE_FONT))

fig.update_layout(
    width=W, height=H, margin=dict(l=0, r=0, t=0, b=0),
    paper_bgcolor="white", plot_bgcolor="white",
    showlegend=False, shapes=shapes, annotations=annotations,
    font=dict(family=FONT),
    **layout_axes,
)

fig.write_html("out.html")
